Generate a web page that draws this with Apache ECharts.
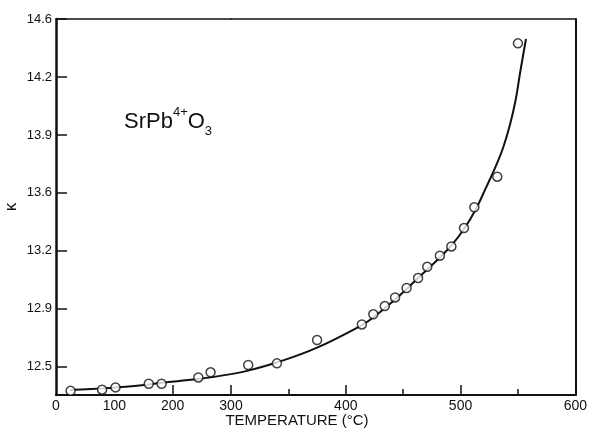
<!DOCTYPE html>
<html>
<head>
<meta charset="utf-8">
<script src="https://cdn.jsdelivr.net/npm/echarts@6/dist/echarts.min.js"></script>
<style>
    html, body {margin: 0; padding: 0; background: #fff;}
    #chart {width: 590px; height: 430px;}
</style>
</head>
<body>
<div id="chart"></div>
<script>
// measured points (temperature in degC, dielectric constant kappa)
var pointTemp = [25, 79, 102, 159, 181, 244, 265, 315, 340, 375, 414, 424, 434, 443, 453, 463, 471, 482, 492, 503, 512, 532, 550];
var pointKappa = [12.355, 12.362, 12.376, 12.398, 12.398, 12.436, 12.467, 12.511, 12.521, 12.662, 12.756, 12.817, 12.867,
    12.919, 12.976, 13.036, 13.104, 13.171, 13.227, 13.338, 13.463, 13.648, 14.453];

// fitted curve
var curveTemp = [24, 79, 103, 159, 182, 243, 300, 315, 341, 374, 414, 425, 444, 463, 482, 493, 503, 513, 522, 530, 537, 543, 548, 552, 557];
var curveKappa = [12.360, 12.370, 12.376, 12.394, 12.404, 12.426, 12.456, 12.477, 12.529, 12.613, 12.752, 12.804, 12.913,
    13.036, 13.160, 13.241, 13.332, 13.447, 13.579, 13.700, 13.821, 13.960, 14.111, 14.280, 14.479];

// the axis in the figure is drawn at half scale below 300 degC
var tempLowLabels = ['0', '100', '200', '300'];
var tempHighLabels = ['400', '500', '600'];
var kappaTickValues = [12.5, 12.85, 13.2, 13.55, 13.9, 14.25, 14.6];
var kappaTickLabels = ['12.5', '12.9', '13.2', '13.6', '13.9', '14.2', '14.6'];

var FONT = 'Liberation Sans';
var INK = '#111';

function pick(xs, ys, lo, hi) {
    var out = [];
    for (var i = 0; i < xs.length; i++) {
        if (xs[i] >= lo && xs[i] <= hi) {
            out.push([xs[i], ys[i]]);
        }
    }
    return out;
}

function kappaLabel(v) {
    for (var i = 0; i < kappaTickValues.length; i++) {
        if (Math.abs(kappaTickValues[i] - v) < 1e-6) {
            return kappaTickLabels[i];
        }
    }
    return '';
}

var lineAxis = {lineStyle: {color: INK, width: 2}};
var labelStyle = {color: INK, fontFamily: FONT, fontSize: 13};

var chart = echarts.init(document.getElementById('chart'));
chart.setOption({
    animation: false,
    backgroundColor: '#fff',
    grid: [
        {left: 56, top: 19, width: 175, bottom: 35},
        {left: 231, top: 19, right: 12, bottom: 35}
    ],
    xAxis: [
        {
            gridIndex: 0, type: 'value', min: 0, max: 300, interval: 100,
            axisLine: lineAxis,
            axisTick: {inside: true, length: 10, customValues: [200, 300], lineStyle: {color: INK, width: 1.5}},
            axisLabel: Object.assign({
                margin: 4, showMinLabel: true, showMaxLabel: true,
                formatter: function (v) {
                    return tempLowLabels[Math.round(v / 100)];
                }
            }, labelStyle, {fontSize: 14}),
            splitLine: {show: false}
        },
        {
            gridIndex: 1, type: 'value', min: 300, max: 600, interval: 100,
            axisLine: lineAxis,
            axisTick: {inside: true, length: 10, lineStyle: {color: INK, width: 1.5}},
            minorTick: {show: true, splitNumber: 2, length: 6, lineStyle: {color: INK, width: 1.5}},
            axisLabel: Object.assign({
                margin: 4, showMinLabel: false, showMaxLabel: true,
                formatter: function (v) {
                    return v > 300 ? tempHighLabels[Math.round(v / 100) - 4] : '';
                }
            }, labelStyle, {fontSize: 14}),
            splitLine: {show: false},
            minorSplitLine: {show: false}
        },
        {
            gridIndex: 0, type: 'value', min: 0, max: 300, position: 'top',
            axisLine: {lineStyle: {color: INK, width: 1.5}},
            axisTick: {show: false}, axisLabel: {show: false}, splitLine: {show: false}
        },
        {
            gridIndex: 1, type: 'value', min: 300, max: 600, position: 'top',
            axisLine: {lineStyle: {color: INK, width: 1.5}},
            axisTick: {show: false}, axisLabel: {show: false}, splitLine: {show: false}
        }
    ],
    yAxis: [
        {
            gridIndex: 0, type: 'value', min: 12.33, max: 14.6,
            name: 'κ', nameLocation: 'middle', nameGap: 36, nameRotate: 90,
            nameTextStyle: {color: INK, fontFamily: FONT, fontSize: 17},
            axisLine: {lineStyle: {color: INK, width: 2.5}},
            axisTick: {inside: true, length: 11, customValues: kappaTickValues, lineStyle: {color: INK, width: 1.5}},
            axisLabel: Object.assign({margin: 4, customValues: kappaTickValues, formatter: kappaLabel}, labelStyle),
            splitLine: {show: false}
        },
        {
            gridIndex: 1, type: 'value', min: 12.33, max: 14.6, position: 'right',
            axisLine: {show: true, lineStyle: {color: INK, width: 2}},
            axisTick: {show: false}, axisLabel: {show: false}, splitLine: {show: false}
        }
    ],
    series: [
        {
            type: 'line', xAxisIndex: 0, yAxisIndex: 0,
            data: pick(curveTemp, curveKappa, 0, 300),
            showSymbol: false, smooth: 0.4,
            lineStyle: {color: INK, width: 2}
        },
        {
            type: 'line', xAxisIndex: 1, yAxisIndex: 1,
            data: pick(curveTemp, curveKappa, 300, 600),
            showSymbol: false, smooth: 0.4,
            lineStyle: {color: INK, width: 2}
        },
        {
            type: 'scatter', xAxisIndex: 0, yAxisIndex: 0,
            data: pick(pointTemp, pointKappa, 0, 300),
            symbol: 'circle', symbolSize: 9, z: 5,
            itemStyle: {color: '#fff', borderColor: INK, borderWidth: 1.5}
        },
        {
            type: 'scatter', xAxisIndex: 1, yAxisIndex: 1,
            data: pick(pointTemp, pointKappa, 300, 600),
            symbol: 'circle', symbolSize: 9, z: 5,
            itemStyle: {color: '#fff', borderColor: INK, borderWidth: 1.5}
        }
    ],
    graphic: [
        {
            type: 'text', left: 124, top: 106,
            style: {
                text: '{m|SrPb}{sup|4+}{m|O}{sub|3}',
                rich: {
                    m: {fontFamily: FONT, fontSize: 22, lineHeight: 32, fill: INK},
                    sup: {fontFamily: FONT, fontSize: 13, lineHeight: 16, verticalAlign: 'top', fill: INK},
                    sub: {fontFamily: FONT, fontSize: 13, lineHeight: 14, verticalAlign: 'bottom', fill: INK}
                }
            }
        },
        {
            type: 'text', x: 297, y: 421,
            style: {
                text: 'TEMPERATURE (°C)', fill: INK, fontFamily: FONT, fontSize: 15,
                textAlign: 'center', textVerticalAlign: 'middle'
            }
        }
    ]
});
</script>
</body>
</html>
